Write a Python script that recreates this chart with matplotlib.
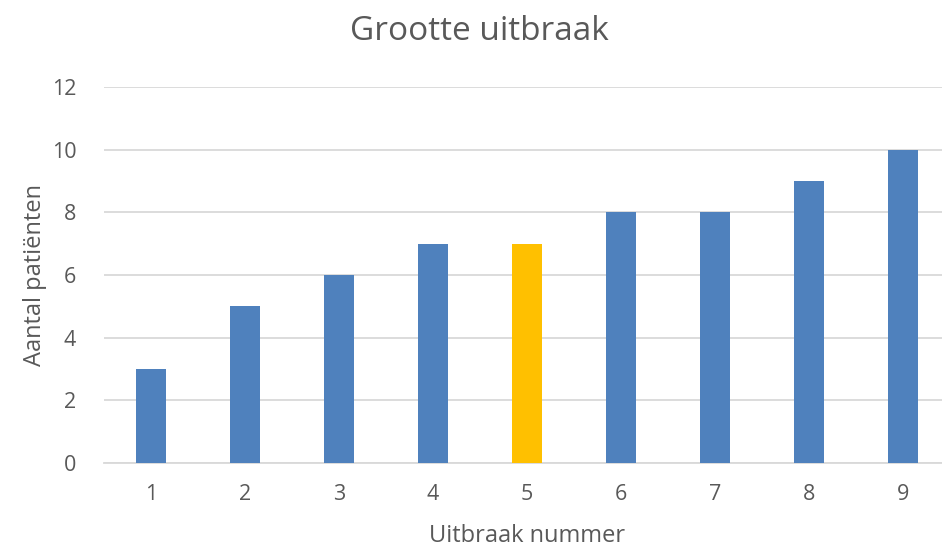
import matplotlib
matplotlib.use("Agg")
import matplotlib.pyplot as plt

# data
categories = ["1", "2", "3", "4", "5", "6", "7", "8", "9"]
values = [3, 5, 6, 7, 7, 8, 8, 9, 10]
highlight = "5"
yticks = [0, 2, 4, 6, 8, 10, 12]

BLUE = "#4F81BD"
YELLOW = "#FFC000"
TEXT = "#595959"
GRID = "#D9D9D9"

plt.rcParams["font.family"] = ["Open Sans", "DejaVu Sans"]

fig = plt.figure(figsize=(9.42, 5.48), dpi=100)
ax = fig.add_axes([104 / 942, 85 / 548, 846 / 942, 376 / 548])

x = list(range(1, len(categories) + 1))
colors = [YELLOW if c == highlight else BLUE for c in categories]
ax.bar(x, values, width=0.32, color=colors, zorder=3)

ax.set_xlim(0.5, 9.5)
ax.set_ylim(0, 12)
ax.set_xticks(x)
ax.set_xticklabels(categories)
ax.set_yticks(yticks)
ax.yaxis.grid(True, color=GRID, linewidth=1.3, zorder=0)
ax.tick_params(axis="both", length=0, labelsize=15.5, colors=TEXT)
ax.tick_params(axis="y", pad=20)
ax.tick_params(axis="x", pad=15)
for s in ["top", "right", "left"]:
    ax.spines[s].set_visible(False)
ax.spines["bottom"].set_color(GRID)
ax.spines["bottom"].set_linewidth(1.3)

ax.set_xlabel("Uitbraak nummer", fontsize=17, color=TEXT, labelpad=14)
ax.set_ylabel("Aantal patiënten", fontsize=17, color=TEXT, labelpad=3)
fig.text(479 / 942, 1 - 31 / 548, "Grootte uitbraak", fontsize=24,
         color=TEXT, ha="center", va="center")

fig.savefig("out.png", dpi=100)
